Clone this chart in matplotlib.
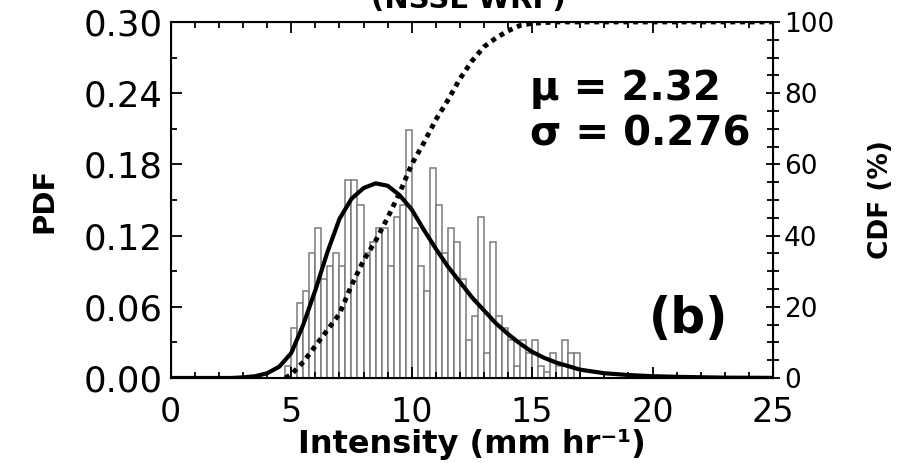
import numpy as np
import matplotlib
matplotlib.use("Agg")
import matplotlib.pyplot as plt
from matplotlib.ticker import MultipleLocator

# histogram (bin left edges, PDF height), bins of 0.25 mm/hr
bin_left = np.arange(4.75, 17.0, 0.25)
pdf_bars = [0.010, 0.042, 0.063, 0.073, 0.105, 0.126, 0.083, 0.094, 0.105, 0.094,
            0.167, 0.167, 0.146, 0.105, 0.115, 0.126, 0.126, 0.094, 0.136, 0.146,
            0.209, 0.126, 0.094, 0.073, 0.177, 0.146, 0.105, 0.126, 0.115, 0.083,
            0.032, 0.052, 0.136, 0.021, 0.115, 0.052, 0.042, 0.032, 0.010, 0.032,
            0.021, 0.032, 0.010, 0.005, 0.021, 0.010, 0.032, 0.021, 0.021]

# fitted PDF curve
fit_x = [0, 2.5, 3.0, 3.5, 4.0, 4.5, 5.0, 5.5, 6.0, 6.5, 7.0, 7.5, 8.0, 8.5, 9.0,
         9.5, 10.0, 10.5, 11.0, 11.5, 12.0, 12.5, 13.0, 13.5, 14.0, 14.5, 15.0,
         15.5, 16.0, 16.5, 17.0, 18.0, 19.0, 20.0, 21.0, 22.0, 23.0, 25.0]
fit_y = [0, 0, 0.0005, 0.0015, 0.004, 0.0095, 0.021, 0.045, 0.074, 0.106, 0.134,
         0.151, 0.160, 0.164, 0.162, 0.154, 0.142, 0.125, 0.109, 0.094, 0.081,
         0.068, 0.057, 0.046, 0.037, 0.029, 0.022, 0.017, 0.013, 0.010, 0.007,
         0.004, 0.0025, 0.0015, 0.001, 0.0006, 0.0003, 0.0001]

# CDF (%)
cdf_x = [4.75, 5.0, 5.5, 6.0, 6.5, 7.0, 7.5, 8.0, 8.5, 9.0, 9.5, 10.0, 10.5, 11.0,
         11.5, 12.0, 12.5, 13.0, 13.5, 14.0, 14.5, 15.0, 16.0, 25.0]
cdf_y = [0, 1.0, 4.5, 9, 13.5, 18, 26, 33, 38.5, 45, 52, 60, 66, 72.5,
         78, 84, 89, 93, 95.5, 97.5, 99, 99.6, 100, 100]

plt.rcParams['font.family'] = ['DejaVu Sans']

fig = plt.figure(figsize=(9.04, 4.63), dpi=100)
ax = fig.add_axes([0.189, 0.1836, 0.666, 0.769])

ax.bar(bin_left, pdf_bars, width=0.25, align='edge', color='white',
       edgecolor='#7a7a7a', linewidth=1.1, zorder=1)
ax.plot(fit_x, fit_y, color='black', linewidth=3, zorder=3)

ax.set_xlim(0, 25)
ax.set_ylim(0, 0.30)
ax.xaxis.set_major_locator(MultipleLocator(5))
ax.xaxis.set_minor_locator(MultipleLocator(1))
ax.set_yticks(np.arange(0, 0.31, 0.06))
ax.set_yticklabels([f"{v:.2f}" for v in np.arange(0, 0.31, 0.06)])
ax.yaxis.set_minor_locator(MultipleLocator(0.03))
ax.tick_params(which='both', direction='in', top=True, labelsize=24, width=1.3)
ax.tick_params(axis='y', labelsize=25.5)
ax.tick_params(which='major', length=8)
ax.tick_params(which='minor', length=4)
ax.tick_params(axis='x', pad=13)
ax.tick_params(axis='y', pad=6)
for s in ax.spines.values():
    s.set_linewidth(1.5)

ax.set_xlabel("Intensity (mm hr⁻¹)", fontsize=23, fontweight='bold', labelpad=0)
ax.set_ylabel("PDF", fontsize=21, fontweight='bold', labelpad=18)

ax2 = ax.twinx()
ax2.plot(cdf_x, cdf_y, color='black', linewidth=3.5, linestyle=(0, (1.0, 1.0)),
         zorder=4)
ax2.set_ylim(0, 100)
ax2.yaxis.set_major_locator(MultipleLocator(20))
ax2.yaxis.set_minor_locator(MultipleLocator(5))
ax2.tick_params(which='both', direction='inout', labelsize=19, width=1.3)
ax2.tick_params(which='major', length=10)
ax2.tick_params(which='minor', length=8)
ax2.tick_params(axis='y', pad=3)
ax2.set_ylabel("CDF (%)", fontsize=19, fontweight='bold', labelpad=24)

ax.text(14.9, 0.234, "μ = 2.32", fontsize=29, fontweight='bold')
ax.text(14.9, 0.196, "σ = 0.276", fontsize=29, fontweight='bold')
ax.text(21.5, 0.05, "(b)", fontsize=35, fontweight='bold', ha='center', va='center')

fig.text(0.518, 0.982, "(NSSL WRF)", fontsize=21, fontweight='bold', ha='center',
         va='baseline')

fig.savefig("out.png", dpi=100)
